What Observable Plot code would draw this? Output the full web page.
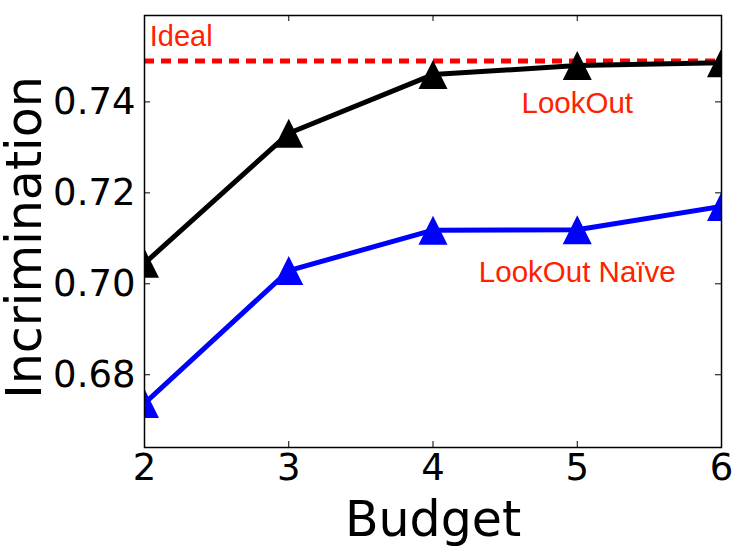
<!DOCTYPE html>
<html><head><meta charset="utf-8">
<script src="https://cdn.jsdelivr.net/npm/d3@7"></script>
<script src="https://cdn.jsdelivr.net/npm/@observablehq/plot@0.6"></script>
<style>body{margin:0;background:#fff} svg{display:block;background:#fff}</style>
</head><body><div id="chart"></div>
<script>
// --- data ---
const budgets = [2, 3, 4, 5, 6];
const lookout = [0.7045, 0.7331, 0.7460, 0.7480, 0.7486];
const naive = [0.6737, 0.7029, 0.7118, 0.7119, 0.7170];
const ideal = 0.749;
const xTicks = [2, 3, 4, 5, 6];
const yTicks = [0.68, 0.70, 0.72, 0.74];
const yTickLabels = ["0.68", "0.70", "0.72", "0.74"];
const labelTexts = ["Ideal", "LookOut", "LookOut Naïve"];
const labelX = [2.036, 5, 5];
const labelY = [0.7544, 0.7397, 0.7024];
const labelAnchor = ["start", "middle", "middle"];

const W = 737, H = 555;
const mL = 144, mR = 16, mT = 15, mB = 108;
const pw = W - mL - mR, ph = H - mT - mB;

const rows = budgets.flatMap((b, i) => [
  {budget: b, value: lookout[i], series: "LookOut"},
  {budget: b, value: naive[i], series: "LookOut Naïve"}
]);
const labels = labelTexts.map((t, i) => ({t, x: labelX[i], y: labelY[i], a: labelAnchor[i]}));

const triangle = {
  draw(context, size) {
    const r = Math.sqrt(size / Math.PI);
    context.moveTo(0, -r);
    context.lineTo(r, r);
    context.lineTo(-r, r);
    context.closePath();
  }
};

const colors = {"LookOut": "#000000", "LookOut Naïve": "#0000ff"};
const font = "DejaVu Sans";

const chart = Plot.plot({
  width: W, height: H,
  marginLeft: mL, marginRight: mR, marginTop: mT, marginBottom: mB,
  style: {fontFamily: font, background: "#fff"},
  x: {domain: [2, 6]},
  y: {domain: [0.664, 0.759]},
  marks: [
    Plot.ruleY([ideal], {stroke: "#ff0000", strokeWidth: 5, strokeDasharray: "10,7"}),
    Plot.line(rows, {x: "budget", y: "value", z: "series", stroke: d => colors[d.series], strokeWidth: 5, clip: true}),
    Plot.dot(rows, {x: "budget", y: "value", fill: d => colors[d.series], stroke: "none", symbol: triangle, r: 14.5, clip: true}),
    Plot.text(labels.filter(d => d.a === "start"), {x: "x", y: "y", text: "t", textAnchor: "start", fill: "#ff2200", fontSize: 29, fontFamily: "Liberation Sans"}),
    Plot.text(labels.filter(d => d.a === "middle"), {x: "x", y: "y", text: "t", textAnchor: "middle", fill: "#ff2200", fontSize: 29.5, fontFamily: "Liberation Sans"}),
    Plot.frame({stroke: "#000", strokeWidth: 1.5}),
    // inward ticks on all four sides
    Plot.tickY(yTicks, {y: d => d, stroke: "#000", strokeWidth: 1, insetRight: pw - 6}),
    Plot.tickY(yTicks, {y: d => d, stroke: "#000", strokeWidth: 1, insetLeft: pw - 6}),
    Plot.tickX(xTicks, {x: d => d, stroke: "#000", strokeWidth: 1, insetTop: ph - 6}),
    Plot.tickX(xTicks, {x: d => d, stroke: "#000", strokeWidth: 1, insetBottom: ph - 6}),
    Plot.axisX({ticks: xTicks, tickSize: 0, tickPadding: 6, fontSize: 37, tickFormat: d => String(d), label: null}),
    Plot.axisY({ticks: yTicks, tickSize: 0, tickPadding: 9, fontSize: 37, tickFormat: d => yTickLabels[yTicks.indexOf(d)] ?? d3.format(".2f")(d), label: null}),
    Plot.text(["Incrimination"], {frameAnchor: "left", rotate: -90, dx: -mL + 40, dy: 6, textAnchor: "middle", lineAnchor: "bottom", fontSize: 49, fontFamily: font, fill: "#000"}),
    Plot.text(["Budget"], {frameAnchor: "bottom", dy: 88, textAnchor: "middle", lineAnchor: "bottom", fontSize: 49, fontFamily: font, fill: "#000"})
  ]
});
document.getElementById("chart").appendChild(chart);
</script>
</body></html>
